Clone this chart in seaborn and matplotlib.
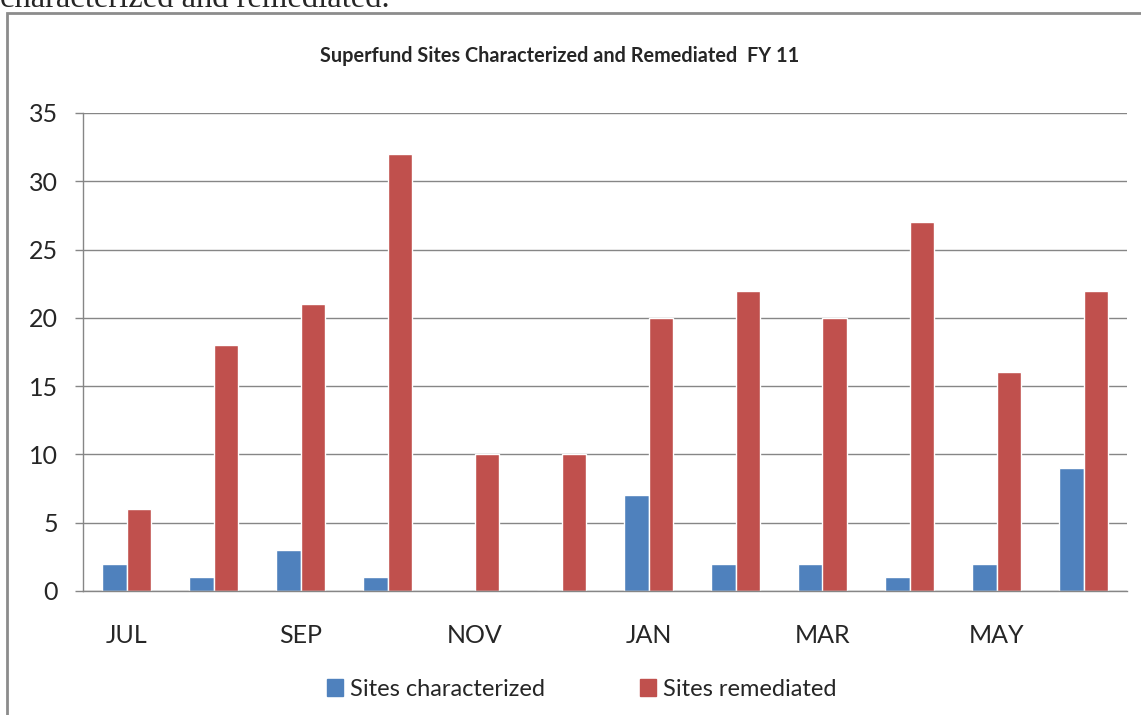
import pandas as pd
import matplotlib.pyplot as plt
import matplotlib.patches as mpatches
import seaborn as sns

months = ['JUL', 'AUG', 'SEP', 'OCT', 'NOV', 'DEC', 'JAN', 'FEB', 'MAR', 'APR', 'MAY', 'JUN']
shown_labels = ['JUL', '', 'SEP', '', 'NOV', '', 'JAN', '', 'MAR', '', 'MAY', '']
characterized = [2, 1, 3, 1, 0, 0, 7, 2, 2, 1, 2, 9]
remediated = [6, 18, 21, 32, 10, 10, 20, 22, 20, 27, 16, 22]
series_names = ['Sites characterized', 'Sites remediated']
colors = ['#4F81BD', '#C0504D']

df = pd.DataFrame({
    'month': months * 2,
    'value': characterized + remediated,
    'series': [series_names[0]] * 12 + [series_names[1]] * 12,
})

sns.set_style('white')
plt.rcParams['font.family'] = ['Lato', 'DejaVu Sans']
grid_col = '#868686'

fig = plt.figure(figsize=(11.41, 7.15), dpi=100)
ax = fig.add_axes([83 / 1141, 1 - 591 / 715, (1127 - 83) / 1141, (591 - 113) / 715])

sns.barplot(data=df, x='month', y='value', hue='series', order=months,
            hue_order=series_names, palette=colors, saturation=1,
            width=0.565, ax=ax, legend=False)

ax.set_ylim(0, 35)
ax.set_xlim(-0.5, 11.5)
ax.set_yticks(range(0, 36, 5))
ax.yaxis.grid(True, color=grid_col, lw=1)
ax.set_axisbelow(True)
for s in ['top', 'right']:
    ax.spines[s].set_visible(False)
for s in ['left', 'bottom']:
    ax.spines[s].set_color(grid_col)
    ax.spines[s].set_linewidth(1)

ax.set_xticks(range(12))
ax.set_xticklabels(shown_labels)
ax.set_xticks([i - 0.5 for i in range(13)], minor=True)
ax.tick_params(axis='x', which='major', length=0, pad=24, labelsize=18)
ax.tick_params(axis='x', which='minor', length=7, color=grid_col, width=1)
ax.tick_params(axis='y', length=6, color=grid_col, width=1, pad=12, labelsize=18, left=True)
ax.set_xlabel('')
ax.set_ylabel('')

# title is centred on the whole chart box, not the plot area
fig.text(560 / 1141, 1 - 56 / 715, 'Superfund Sites Characterized and Remediated  FY 11',
         fontsize=14.3, fontweight='bold', ha='center', va='center')

handles = [mpatches.Patch(color=c, label=n) for c, n in zip(colors, series_names)]
fig.legend(handles=handles, loc='center', bbox_to_anchor=(0.51, 1 - 689 / 715),
           ncol=2, frameon=False, fontsize=17, handlelength=0.7, handleheight=0.7,
           handletextpad=0.3, columnspacing=4.0)

# outer chart border and cut-off document text above it
fig.patches.append(mpatches.Rectangle((7 / 1141, -0.05), 1.1, 1 - 13 / 715 + 0.05,
                                      transform=fig.transFigure, fill=False,
                                      edgecolor='#8c8c8c', lw=2))
fig.text(0.0, 1 - 7 / 715, 'characterized and remediated.', family='Liberation Serif',
         fontsize=23.5, va='baseline', ha='left')

fig.savefig('out.png', dpi=100)
